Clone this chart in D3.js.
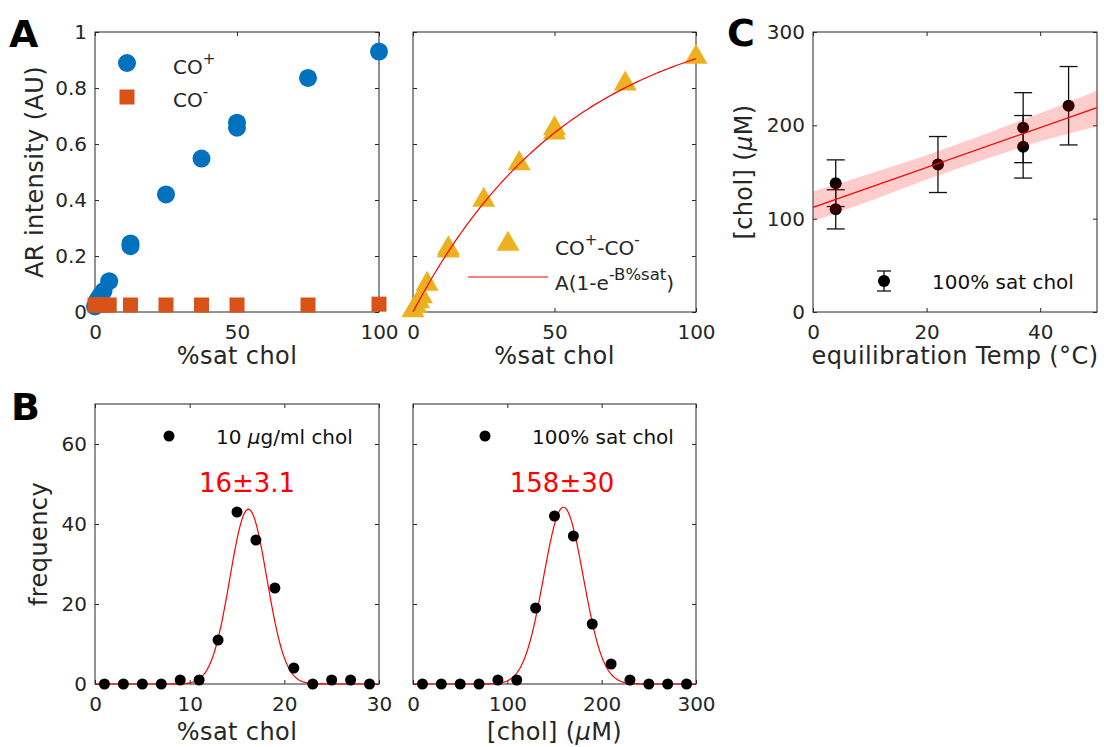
<!DOCTYPE html>
<html>
<head>
<meta charset="utf-8">
<script src="https://cdn.jsdelivr.net/npm/d3@7"></script>
<style>
  body { margin: 0; background: #fff; }
  svg { display: block; font-family: "DejaVu Sans", sans-serif; }
</style>
</head>
<body>
<svg id="chart" width="1104" height="747"></svg>
<script>
// ---- panel A (left): raw intensities
const coPlusX = [0, 1, 2, 3, 5, 12.5, 12.5, 25, 37.5, 50, 50, 75, 100];
const coPlusY = [0.02, 0.045, 0.06, 0.075, 0.11, 0.245, 0.235, 0.42, 0.548, 0.676, 0.658, 0.836, 0.93];
const coMinusX = [0, 1, 2, 3, 5, 12.5, 25, 37.5, 50, 75, 100];
const coMinusY = [0.025, 0.025, 0.025, 0.025, 0.025, 0.025, 0.025, 0.025, 0.025, 0.025, 0.028];

// ---- panel A (right): difference + exponential fit
const diffX = [0, 1, 2, 3, 5, 12.5, 12.5, 25, 37.5, 50, 50, 75, 100];
const diffY = [0.005, 0.02, 0.037, 0.055, 0.1, 0.227, 0.218, 0.4, 0.53, 0.655, 0.64, 0.815, 0.91];
const fitA = 1.092;
const fitB = 0.01764;

// ---- panel B: histograms + gaussian fits
const histX1 = [1, 3, 5, 7, 9, 11, 13, 15, 17, 19, 21, 23, 25, 27, 29];
const histY1 = [0, 0, 0, 0, 1, 1, 11, 43, 36, 24, 4, 0, 1, 1, 0];
const gauss1 = { amp: 43.7, mu: 16.2, sigma: 1.95 };
const histX2 = [10, 30, 50, 70, 90, 110, 130, 150, 170, 190, 210, 230, 250, 270, 290];
const histY2 = [0, 0, 0, 0, 1, 1, 19, 42, 37, 15, 5, 1, 0, 0, 0];
const gauss2 = { amp: 44.2, mu: 159.5, sigma: 21 };

// ---- panel C: temperature series
const tempX = [4, 4, 22, 37, 37, 45];
const cholY = [138, 110, 158, 197.5, 177, 221];
const cholErr = [25, 21, 30, 37.5, 33.5, 42];
const lineX = [0, 50];
const lineY = [112, 219];
const bandX = [0, 10, 20, 30, 40, 50];
const bandLo = [97, 119, 142, 163, 183, 199];
const bandHi = [129, 148, 168, 190, 213, 237];

const ink = "#262626";
const svg = d3.select("#chart");
svg.append("rect").attr("width", 1104).attr("height", 747).attr("fill", "#fff");

const makePanel = (o) => {
  const x = d3.scaleLinear().domain(o.xDomain).range([o.left, o.left + o.w]);
  const y = d3.scaleLinear().domain(o.yDomain).range([o.top + o.h, o.top]);
  const g = svg.append("g");

  const styleAxis = (sel) => {
    sel.attr("font-family", "DejaVu Sans").attr("font-size", 20);
    sel.selectAll("text").attr("fill", ink);
    sel.selectAll("line").attr("stroke", ink);
    sel.select(".domain").remove();
  };

  g.append("g")
    .attr("transform", `translate(0,${o.top + o.h})`)
    .call(d3.axisBottom(x).tickValues(o.xTicks).tickSize(-4).tickSizeOuter(0).tickPadding(13).tickFormat(d3.format("d")))
    .call(styleAxis);
  g.append("g")
    .attr("transform", `translate(0,${o.top})`)
    .call(d3.axisTop(x).tickValues(o.xTicks).tickSize(-4).tickSizeOuter(0).tickFormat(""))
    .call(styleAxis);
  g.append("g")
    .attr("transform", `translate(${o.left},0)`)
    .call(d3.axisLeft(y).tickValues(o.yTicks).tickSize(-4).tickSizeOuter(0).tickPadding(8)
      .tickFormat(o.yLabels ? o.yFormat : ""))
    .call(styleAxis);
  g.append("g")
    .attr("transform", `translate(${o.left + o.w},0)`)
    .call(d3.axisRight(y).tickValues(o.yTicks).tickSize(-4).tickSizeOuter(0).tickFormat(""))
    .call(styleAxis);

  g.append("rect")
    .attr("x", o.left).attr("y", o.top).attr("width", o.w).attr("height", o.h)
    .attr("fill", "none").attr("stroke", ink).attr("stroke-width", 1);

  if (o.xLabel) {
    g.append("text")
      .attr("x", o.left + o.w / 2).attr("y", o.xLabelY)
      .attr("text-anchor", "middle").attr("font-size", 24).attr("letter-spacing", 0.4).attr("fill", ink)
      .text(o.xLabel);
  }
  if (o.yLabel) {
    g.append("text")
      .attr("transform", `translate(${o.yLabelX},${o.top + o.h / 2}) rotate(-90)`)
      .attr("text-anchor", "middle").attr("font-size", 24).attr("letter-spacing", 0.4).attr("fill", ink)
      .text(o.yLabel);
  }
  return { g, x, y };
};

const unitFmt = (d) => (d === 0 ? "0" : d === 1 ? "1" : d3.format(".1f")(d));

// ================= panel A left
const pA1 = makePanel({
  left: 95, top: 32, w: 284, h: 280,
  xDomain: [0, 100], yDomain: [0, 1],
  xTicks: [0, 50, 100], yTicks: [0, 0.2, 0.4, 0.6, 0.8, 1],
  yLabels: true, yFormat: unitFmt,
  xLabel: "%sat chol", xLabelY: 364,
  yLabel: "AR intensity (AU)", yLabelX: 43
});
pA1.g.selectAll(".plus").data(coPlusX).join("circle")
  .attr("cx", (d) => pA1.x(d)).attr("cy", (d, i) => pA1.y(coPlusY[i]))
  .attr("r", 9).attr("fill", "#0072BD");
pA1.g.selectAll(".minus").data(coMinusX).join("rect")
  .attr("x", (d) => pA1.x(d) - 7.5).attr("y", (d, i) => pA1.y(coMinusY[i]) - 7.5)
  .attr("width", 15).attr("height", 15).attr("fill", "#D95319");

// legend
pA1.g.append("circle").attr("cx", 127).attr("cy", 63).attr("r", 9).attr("fill", "#0072BD");
pA1.g.append("rect").attr("x", 119.5).attr("y", 89.5).attr("width", 15).attr("height", 15).attr("fill", "#D95319");
const legA1 = pA1.g.append("text").attr("x", 173).attr("y", 74).attr("font-size", 20).attr("fill", ink);
legA1.append("tspan").text("CO");
legA1.append("tspan").attr("font-size", 15).attr("dy", -10).text("+");
const legA1b = pA1.g.append("text").attr("x", 173).attr("y", 107).attr("font-size", 20).attr("fill", ink);
legA1b.append("tspan").text("CO");
legA1b.append("tspan").attr("font-size", 15).attr("dy", -10).text("-");

// ================= panel A right
const pA2 = makePanel({
  left: 413, top: 32, w: 283, h: 280,
  xDomain: [0, 100], yDomain: [0, 1],
  xTicks: [0, 50, 100], yTicks: [0, 0.2, 0.4, 0.6, 0.8, 1],
  yLabels: false,
  xLabel: "%sat chol", xLabelY: 364
});
const triangle = d3.symbol().type(d3.symbolTriangle).size(230);
pA2.g.selectAll(".tri").data(diffX).join("path")
  .attr("d", triangle)
  .attr("transform", (d, i) => `translate(${pA2.x(d)},${pA2.y(diffY[i])})`)
  .attr("fill", "#EDB120");
const fitPts = d3.range(0, 101, 1);
pA2.g.append("path")
  .datum(fitPts)
  .attr("d", d3.line().x((d) => pA2.x(d)).y((d) => pA2.y(fitA * (1 - Math.exp(-fitB * d)))))
  .attr("fill", "none").attr("stroke", "#FF0000").attr("stroke-width", 1.2);

pA2.g.append("path").attr("d", triangle).attr("transform", "translate(508,244)").attr("fill", "#EDB120");
const legA2 = pA2.g.append("text").attr("x", 555).attr("y", 255).attr("font-size", 20).attr("fill", ink);
legA2.append("tspan").text("CO");
legA2.append("tspan").attr("font-size", 15).attr("dy", -10).text("+");
legA2.append("tspan").attr("dy", 10).text("-CO");
legA2.append("tspan").attr("font-size", 15).attr("dy", -10).text("-");
pA2.g.append("line").attr("x1", 468).attr("x2", 548).attr("y1", 277).attr("y2", 277)
  .attr("stroke", "#FF0000").attr("stroke-width", 1.2);
const legA2b = pA2.g.append("text").attr("x", 555).attr("y", 290).attr("font-size", 20).attr("fill", ink);
legA2b.append("tspan").text("A(1-e");
legA2b.append("tspan").attr("font-size", 16.5).attr("dy", -10).text("-B%sat");
legA2b.append("tspan").attr("dy", 10).text(")");

// ================= panel B left
const pB1 = makePanel({
  left: 95, top: 404, w: 284, h: 280,
  xDomain: [0, 30], yDomain: [0, 70],
  xTicks: [0, 10, 20, 30], yTicks: [0, 20, 40, 60],
  yLabels: true, yFormat: d3.format("d"),
  xLabel: "%sat chol", xLabelY: 740,
  yLabel: "frequency", yLabelX: 47
});
const gaussLine = (p, prm, lo, hi) => {
  const pts = d3.range(lo, hi + 1e-9, (hi - lo) / 300);
  p.g.append("path")
    .datum(pts)
    .attr("d", d3.line().x((d) => p.x(d))
      .y((d) => p.y(prm.amp * Math.exp(-((d - prm.mu) ** 2) / (2 * prm.sigma ** 2)))))
    .attr("fill", "none").attr("stroke", "#FF0000").attr("stroke-width", 1.2);
};
gaussLine(pB1, gauss1, 0, 30);
pB1.g.selectAll(".dot").data(histX1).join("circle")
  .attr("cx", (d) => pB1.x(d)).attr("cy", (d, i) => pB1.y(histY1[i]))
  .attr("r", 5.5).attr("fill", "#000");
pB1.g.append("circle").attr("cx", 169).attr("cy", 436).attr("r", 5.5).attr("fill", "#000");
const legB1 = pB1.g.append("text").attr("x", 216).attr("y", 444).attr("font-size", 20).attr("fill", "#111");
legB1.append("tspan").text("10 ");
legB1.append("tspan").attr("font-style", "italic").text("\u03bc");
legB1.append("tspan").text("g/ml chol");
pB1.g.append("text").attr("x", 247).attr("y", 492).attr("text-anchor", "middle")
  .attr("font-size", 26).attr("fill", "#FF0000").text("16\u00b13.1");

// ================= panel B right
const pB2 = makePanel({
  left: 413, top: 404, w: 283, h: 280,
  xDomain: [0, 300], yDomain: [0, 70],
  xTicks: [0, 100, 200, 300], yTicks: [0, 20, 40, 60],
  yLabels: false,
  xLabel: "", xLabelY: 740
});
pB2.g.append("text").attr("x", 413 + 283 / 2).attr("y", 740).attr("text-anchor", "middle")
  .attr("font-size", 24).attr("letter-spacing", 0.4).attr("fill", ink)
  .call((t) => {
    t.append("tspan").text("[chol] (");
    t.append("tspan").attr("font-style", "italic").text("\u03bc");
    t.append("tspan").text("M)");
  });
gaussLine(pB2, gauss2, 0, 300);
pB2.g.selectAll(".dot").data(histX2).join("circle")
  .attr("cx", (d) => pB2.x(d)).attr("cy", (d, i) => pB2.y(histY2[i]))
  .attr("r", 5.5).attr("fill", "#000");
pB2.g.append("circle").attr("cx", 485).attr("cy", 436).attr("r", 5.5).attr("fill", "#000");
pB2.g.append("text").attr("x", 532).attr("y", 444).attr("font-size", 20).attr("fill", "#111")
  .text("100% sat chol");
pB2.g.append("text").attr("x", 562).attr("y", 492).attr("text-anchor", "middle")
  .attr("font-size", 26).attr("fill", "#FF0000").text("158\u00b130");

// ================= panel C
const pC = makePanel({
  left: 813, top: 32, w: 284, h: 280,
  xDomain: [0, 50], yDomain: [0, 300],
  xTicks: [0, 20, 40], yTicks: [0, 100, 200, 300],
  yLabels: true, yFormat: d3.format("d"),
  xLabel: "equilibration Temp (\u00b0C)", xLabelY: 364
});
pC.g.append("text")
  .attr("transform", `translate(752,${32 + 140}) rotate(-90)`)
  .attr("text-anchor", "middle").attr("font-size", 24).attr("letter-spacing", 0.4).attr("fill", ink)
  .call((t) => {
    t.append("tspan").text("[chol] (");
    t.append("tspan").attr("font-style", "italic").text("\u03bc");
    t.append("tspan").text("M)");
  });

const errG = pC.g.append("g").attr("stroke", "#111").attr("stroke-width", 1.3);
tempX.forEach((t, i) => {
  const cx = pC.x(t);
  const y1 = pC.y(cholY[i] - cholErr[i]);
  const y2 = pC.y(cholY[i] + cholErr[i]);
  errG.append("line").attr("x1", cx).attr("x2", cx).attr("y1", y1).attr("y2", y2);
  errG.append("line").attr("x1", cx - 9).attr("x2", cx + 9).attr("y1", y1).attr("y2", y1);
  errG.append("line").attr("x1", cx - 9).attr("x2", cx + 9).attr("y1", y2).attr("y2", y2);
});
pC.g.selectAll(".cdot").data(tempX).join("circle")
  .attr("cx", (d) => pC.x(d)).attr("cy", (d, i) => pC.y(cholY[i]))
  .attr("r", 6).attr("fill", "#000");

pC.g.append("path")
  .datum(bandX)
  .attr("d", d3.area().x((d) => pC.x(d)).y0((d, i) => pC.y(bandLo[i])).y1((d, i) => pC.y(bandHi[i])))
  .attr("fill", "#FF0000").attr("fill-opacity", 0.2);
pC.g.append("path")
  .datum(lineX)
  .attr("d", d3.line().x((d) => pC.x(d)).y((d, i) => pC.y(lineY[i])))
  .attr("stroke", "#FF0000").attr("stroke-width", 1.3).attr("fill", "none");

// legend C
const legC = pC.g.append("g").attr("stroke", "#111").attr("stroke-width", 1.3);
legC.append("line").attr("x1", 884).attr("x2", 884).attr("y1", 271).attr("y2", 291);
legC.append("line").attr("x1", 877).attr("x2", 891).attr("y1", 271).attr("y2", 271);
legC.append("line").attr("x1", 877).attr("x2", 891).attr("y1", 291).attr("y2", 291);
pC.g.append("circle").attr("cx", 884).attr("cy", 281).attr("r", 6).attr("fill", "#000");
pC.g.append("text").attr("x", 932).attr("y", 289).attr("font-size", 20).attr("fill", "#111")
  .text("100% sat chol");

// panel letters
const letters = [["A", 9, 47], ["B", 11, 420], ["C", 727, 46]];
letters.forEach(([t, lx, ly]) => {
  svg.append("text").attr("x", lx).attr("y", ly).attr("font-size", 38)
    .attr("font-weight", "bold").attr("fill", "#000").text(t);
});
</script>
</body>
</html>
